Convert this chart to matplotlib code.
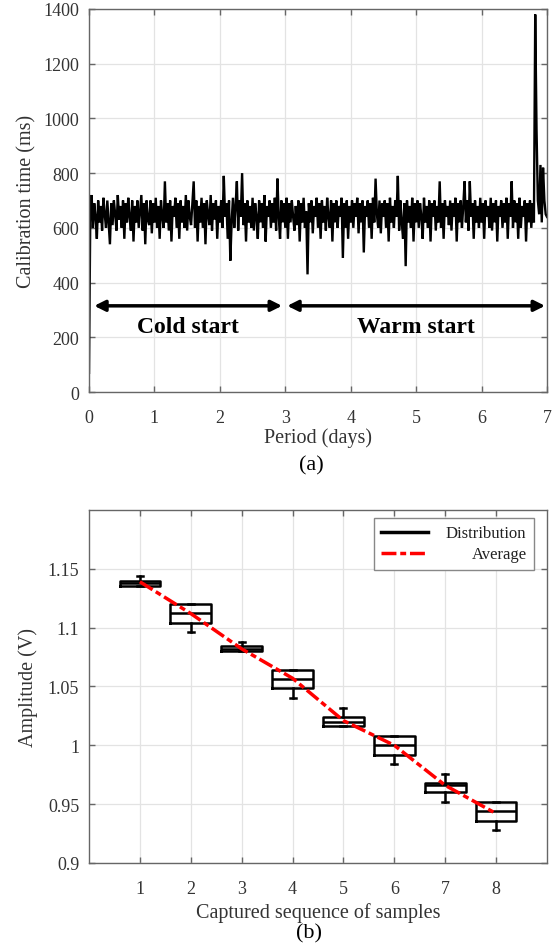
import numpy as np
import matplotlib
matplotlib.use("Agg")
import matplotlib.pyplot as plt
from matplotlib.lines import Line2D

plt.rcParams['font.family'] = ['Liberation Serif', 'DejaVu Serif']
plt.rcParams['mathtext.fontset'] = 'stix'

# ---------------- data: panel (a) ----------------
calib_ms = [
    70, 660, 720, 600, 690, 640, 560, 700, 620, 680, 590, 710, 650, 600, 700, 620, 540, 690, 610, 700, 650, 590, 720, 630, 680,
    600, 700, 560, 690, 620, 710, 640, 590, 700, 550, 680, 620, 700, 600, 660, 720, 590, 690, 540, 700, 630, 610, 700, 580, 690,
    620, 710, 600, 680, 560, 700, 640, 600, 770, 620, 690, 590, 700, 550, 680, 640, 710, 600, 690, 560, 700, 620, 680, 600, 720,
    590, 700, 640, 610, 690, 770, 600, 700, 550, 680, 620, 710, 600, 690, 540, 700, 650, 610, 720, 590, 690, 630, 700, 560, 680,
    620, 700, 600, 790, 640, 690, 560, 700, 480, 620, 710, 600, 680, 770, 590, 700, 640, 800, 610, 690, 550, 700, 620, 680, 600,
    710, 590, 690, 640, 560, 700, 620, 690, 600, 720, 550, 680, 640, 700, 600, 690, 620, 710, 590, 780, 640, 560, 700, 620, 690,
    600, 710, 560, 690, 620, 700, 640, 590, 680, 610, 700, 550, 690, 620, 710, 600, 660, 430, 690, 620, 700, 580, 680, 640, 710,
    600, 690, 560, 700, 620, 680, 590, 710, 640, 600, 700, 550, 690, 620, 700, 600, 680, 640, 710, 490, 690, 600, 700, 560, 680,
    620, 700, 600, 690, 640, 710, 580, 690, 620, 700, 510, 680, 640, 700, 600, 690, 560, 710, 620, 780, 650, 600, 700, 580, 690,
    640, 700, 600, 690, 550, 710, 620, 680, 600, 700, 640, 790, 590, 700, 620, 560, 690, 460, 700, 620, 680, 600, 710, 550, 690,
    620, 700, 600, 690, 640, 560, 710, 620, 680, 600, 700, 550, 690, 640, 700, 590, 680, 620, 770, 600, 690, 560, 700, 640, 680,
    610, 700, 590, 690, 640, 710, 550, 690, 620, 700, 600, 680, 770, 620, 700, 590, 770, 640, 690, 560, 700, 620, 680, 600, 710,
    620, 690, 560, 700, 640, 680, 600, 710, 590, 690, 620, 700, 550, 680, 640, 700, 600, 690, 620, 710, 560, 690, 640, 770, 600,
    700, 620, 690, 560, 710, 600, 680, 640, 700, 550, 690, 620, 700, 600, 690, 620, 1380, 960, 700, 650, 830, 620, 820, 700, 650,
    640,
]
period_days = (0, 7)
a_xticks = [0, 1, 2, 3, 4, 5, 6, 7]
a_yticks = [0, 200, 400, 600, 800, 1000, 1200, 1400]
cold_span = (0.08, 2.95)
warm_span = (3.03, 6.97)
arrow_y = 315
label_y = 239

# ---------------- data: panel (b) ----------------
seq = [1, 2, 3, 4, 5, 6, 7, 8]
q1 = [1.1358, 1.1040, 1.0800, 1.0486, 1.0162, 0.9918, 0.9601, 0.9360]
med = [1.1380, 1.1123, 1.0820, 1.0560, 1.0195, 1.0001, 0.9663, 0.9440]
q3 = [1.1400, 1.1202, 1.0843, 1.0640, 1.0239, 1.0077, 0.9678, 0.9519]
whislo = [1.1358, 1.0962, 1.0800, 1.0403, 1.0162, 0.9839, 0.9516, 0.9277]
whishi = [1.1443, 1.1202, 1.0882, 1.0640, 1.0320, 1.0077, 0.9760, 0.9519]
avg = [1.139, 1.112, 1.082, 1.057, 1.021, 1.000, 0.966, 0.942]
b_yticks = [0.9, 0.95, 1.0, 1.05, 1.1, 1.15]
b_yticklabels = ['0.9', '0.95', '1', '1.05', '1.1', '1.15']

W, H = 556, 953
fig = plt.figure(figsize=(W / 100, H / 100), dpi=100)

spine_c = '#666666'
tick_c = '#333333'
grid_c = '#e3e3e3'

def style(ax):
    for s in ax.spines.values():
        s.set_color(spine_c)
        s.set_linewidth(1.0)
    ax.tick_params(direction='in', top=True, right=True, length=4, width=1.0,
                   color=spine_c, labelcolor=tick_c, labelsize=13)
    ax.tick_params(axis='x', pad=12)
    ax.tick_params(axis='y', pad=7)
    ax.grid(True, color=grid_c, lw=0.9)
    ax.set_axisbelow(True)

# ---- panel (a)
axa = fig.add_axes([89 / W, 1 - 393 / H, 458 / W, 383 / H])
style(axa)
t = np.linspace(period_days[0], period_days[1], len(calib_ms))
axa.plot(t, calib_ms, color='black', lw=1.7, solid_joinstyle='miter')
axa.set_xlim(*period_days)
axa.set_ylim(0, 1400)
axa.set_xticks(a_xticks)
axa.set_yticks(a_yticks)
for span in (cold_span, warm_span):
    axa.annotate('', xy=(span[1], arrow_y), xytext=(span[0], arrow_y),
                 arrowprops=dict(arrowstyle='<|-|>', lw=2.5, color='black',
                                 mutation_scale=16, shrinkA=0, shrinkB=0))
axa.text(sum(cold_span) / 2, label_y, 'Cold start', ha='center', va='center',
         fontsize=17, fontweight='bold', color='black')
axa.text(sum(warm_span) / 2, label_y, 'Warm start', ha='center', va='center',
         fontsize=17, fontweight='bold', color='black')
axa.set_xlabel('Period (days)', fontsize=14.5, color=tick_c)
axa.set_ylabel('Calibration time (ms)', fontsize=14.5, color=tick_c)
axa.xaxis.set_label_coords(0.5, (393 - 428) / 383)
axa.yaxis.set_label_coords((36 - 89) / 458, 0.5)
fig.text(311 / W, 1 - 466 / H, '(a)', ha='center', va='center', fontsize=16, color='black')

# ---- panel (b)
axb = fig.add_axes([89 / W, 1 - 864 / H, 458 / W, 353 / H])
style(axb)
stats = [dict(q1=a, med=m, q3=c, whislo=lo, whishi=hi, fliers=[])
         for a, m, c, lo, hi in zip(q1, med, q3, whislo, whishi)]
lp = dict(color='black', lw=1.8)
axb.bxp(stats, positions=seq, widths=0.8, capwidths=0.12, showfliers=False,
        boxprops=lp, whiskerprops=lp, capprops=lp, medianprops=lp, manage_ticks=False)
axb.plot(seq, avg, color='red', lw=2.5, dashes=(4.3, 1.1, 1.7, 1.1), zorder=5)
axb.set_xlim(0, 9)
axb.set_ylim(0.9, 1.2)
axb.set_xticks(seq)
axb.set_yticks(b_yticks)
axb.set_yticklabels(b_yticklabels)
axb.set_xlabel('Captured sequence of samples', fontsize=14.5, color=tick_c)
axb.set_ylabel('Amplitude (V)', fontsize=14.5, color=tick_c)
axb.xaxis.set_label_coords(0.5, (864 - 903) / 353)
axb.yaxis.set_label_coords((38 - 89) / 458, 0.5)
fig.text(309 / W, 1 - 934 / H, '(b)', ha='center', va='center', fontsize=16, color='black')

handles = [Line2D([], [], color='black', lw=2.5),
           Line2D([], [], color='red', lw=2.5, dashes=(4.3, 1.1, 1.7, 1.1))]
leg = axb.legend(handles, ['Distribution', 'Average'], loc='upper right',
                 bbox_to_anchor=((534 - 89) / 458, (864 - 519) / 353), borderaxespad=0,
                 fontsize=12, handlelength=2.8, handletextpad=1.1, borderpad=0.45,
                 labelspacing=0.3, fancybox=False, framealpha=1, edgecolor='#888888')
leg.get_frame().set_linewidth(1.0)
for tx in leg.get_texts():
    tx.set_color('#222222')

# right-align legend texts (MATLAB style)
fig.canvas.draw()
r = fig.canvas.get_renderer()
widths = [tx.get_window_extent(r).width for tx in leg.get_texts()]
rows = leg._legend_handle_box.get_children()[0].get_children()
for row, wi in zip(rows, widths):
    row.sep += (max(widths) - wi) * 72 / fig.dpi

fig.savefig('out.png', dpi=100)
